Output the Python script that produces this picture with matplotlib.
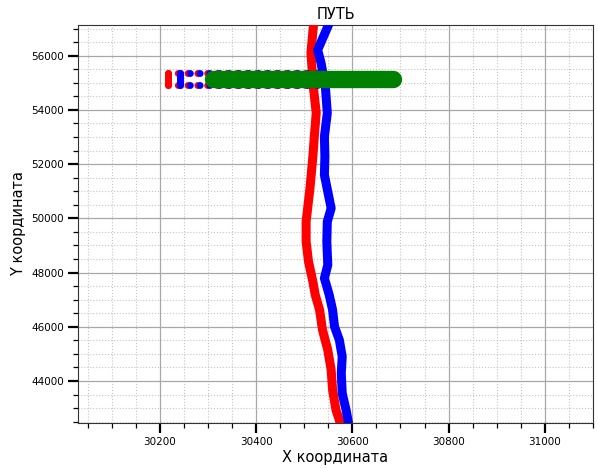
import matplotlib
matplotlib.use("Agg")
import matplotlib.pyplot as plt
from matplotlib.ticker import MultipleLocator

# main tracks (top to bottom)
red_y = [57200, 57070, 56100, 54857, 53886, 53012, 52274, 51109, 49877, 49139,
         48401, 47664, 47173, 46620, 45882, 45144, 44407, 43669, 42931, 42562, 42400]
red_x = [30520, 30519, 30514, 30519, 30525, 30521, 30518, 30512, 30504, 30504,
         30509, 30518, 30523, 30532, 30538, 30549, 30556, 30559, 30566, 30573, 30575]

blue_y = [57200, 57070, 56579, 56210, 55731, 54857, 53886, 53012, 52274, 51599,
          50983, 50371, 49877, 49139, 48279, 47789, 47173, 46620, 46004, 45513,
          44898, 44285, 43547, 42931, 42452]
blue_x = [30552, 30549, 30537, 30528, 30535, 30544, 30548, 30542, 30543, 30542,
          30549, 30556, 30548, 30547, 30549, 30542, 30552, 30559, 30563, 30573,
          30579, 30577, 30579, 30587, 30592]

# side branch: two rows of points going left from the tracks
branch_rows_y = [55351, 54919]
red_branch_x = [30217, 30515]
blue_branch_x = [30243, 30540]

# green segment
green_x = [30310, 30684]
green_y = [55133, 55133]

fig = plt.figure(figsize=(5.98, 4.68), dpi=100)
ax = fig.add_axes([0.1304, 0.0962, 0.9916 - 0.1304, 0.9466 - 0.0962])

dots = (0, (0.01, 1.4))
for xs, col, z in [(red_branch_x, 'red', 3), (blue_branch_x, 'blue', 4)]:
    ax.plot([xs[0], xs[0]], branch_rows_y, color=col, lw=5, solid_capstyle='round', zorder=z)
    for yy in branch_rows_y:
        ax.plot(xs, [yy, yy], color=col, lw=5, linestyle=dots,
                dash_capstyle='round', zorder=z)

ax.plot(red_x, red_y, color='red', lw=6.5, solid_joinstyle='round',
        solid_capstyle='round', zorder=3)
ax.plot(blue_x, blue_y, color='blue', lw=6.5, solid_joinstyle='round',
        solid_capstyle='round', zorder=4)
ax.plot(green_x, green_y, color='green', lw=12.5, solid_capstyle='round', zorder=5)

ax.set_xlim(30030, 31100)
ax.set_ylim(42450, 57130)
ax.xaxis.set_major_locator(MultipleLocator(200))
ax.xaxis.set_minor_locator(MultipleLocator(50))
ax.yaxis.set_major_locator(MultipleLocator(2000))
ax.yaxis.set_minor_locator(MultipleLocator(500))

ax.grid(True, which='major', color='#a8a8a8', linestyle='-', linewidth=0.9)
ax.grid(True, which='minor', color='#c4c4c4', linestyle=':', linewidth=0.8)
ax.set_axisbelow(True)

ax.tick_params(which='major', length=7, width=1.6, labelsize=7.5, pad=3)
ax.tick_params(which='minor', length=3.5, width=0.9)
for sp in ax.spines.values():
    sp.set_color('#333333')

ax.set_title('ПУТЬ', fontsize=10.5, pad=4)
ax.set_xlabel('X координата', fontsize=10.5, labelpad=2)
ax.set_ylabel('Y координата', fontsize=10.5, labelpad=4)

fig.savefig('out.png', dpi=100)
